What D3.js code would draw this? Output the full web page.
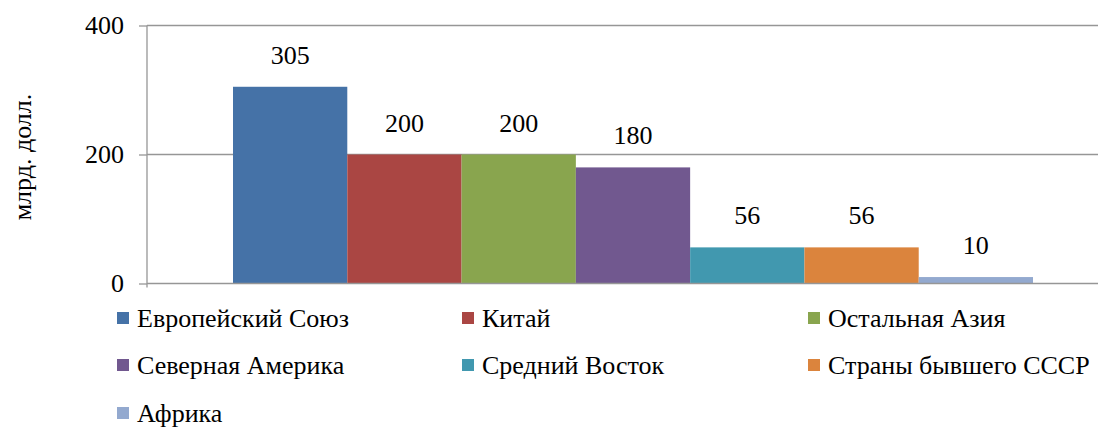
<!DOCTYPE html>
<html>
<head>
<meta charset="utf-8">
<script src="https://cdn.jsdelivr.net/npm/d3@7"></script>
</head>
<body style="margin:0">
<svg width="1098" height="430"></svg>
<script>
// series (one category, seven regions)
const regions = ['Европейский Союз', 'Китай', 'Остальная Азия', 'Северная Америка', 'Средний Восток', 'Страны бывшего СССР', 'Африка'];
const values = [305, 200, 200, 180, 56, 56, 10];
const colors = ['#4572A7', '#AA4643', '#89A54E', '#71588F', '#4198AF', '#DB843D', '#93A9CF'];
const yTicks = [0, 200, 400];
const yTitle = 'млрд. долл.';

const FONT = "'Liberation Serif'";

const svg = d3.select('svg');

const x = d3.scaleBand().domain(regions).range([233, 1033]).padding(0);
const y = d3.scaleLinear().domain([0, 400]).range([283.5, 25.5]);

// gridlines
svg.append('g')
	.selectAll('line')
	.data(yTicks.filter(d => d > 0))
	.enter()
	.append('line')
	.attr('x1', 147).attr('x2', 1098)
	.attr('y1', d => y(d)).attr('y2', d => y(d))
	.attr('stroke', '#969696').attr('stroke-width', 1.3);

// bars
svg.append('g')
	.selectAll('rect')
	.data(values)
	.enter()
	.append('rect')
	.attr('x', (d, i) => x(regions[i]))
	.attr('width', x.bandwidth())
	.attr('y', d => y(d))
	.attr('height', d => y(0) - y(d))
	.attr('fill', (d, i) => colors[i]);

// value labels
svg.selectAll('.val')
	.data(values)
	.enter()
	.append('text')
	.attr('class', 'val')
	.attr('x', (d, i) => x(regions[i]) + x.bandwidth() / 2)
	.attr('y', d => y(d) - 23)
	.attr('text-anchor', 'middle')
	.attr('font-size', 26)
	.style('font-family', FONT)
	.text(d => d);

// y axis
const yAxis = svg.append('g')
	.attr('transform', 'translate(147,0)')
	.call(d3.axisLeft(y).tickValues(yTicks).tickSize(8).tickPadding(15));
yAxis.select('.domain').attr('stroke', '#969696').attr('stroke-width', 1.3).attr('d', 'M0,' + y(400) + 'V' + (y(0) + 4));
yAxis.selectAll('.tick line').attr('stroke', '#969696').attr('stroke-width', 1.3);
yAxis.selectAll('.tick text')
	.attr('fill', '#000')
	.attr('font-size', 26)
	.style('font-family', FONT);

// baseline
svg.append('line')
	.attr('x1', 147).attr('x2', 1098)
	.attr('y1', y(0)).attr('y2', y(0))
	.attr('stroke', '#969696').attr('stroke-width', 1.3);

// y title
svg.append('text')
	.attr('transform', 'translate(31,157) rotate(-90)')
	.attr('text-anchor', 'middle')
	.attr('font-size', 26)
	.style('font-family', FONT)
	.text(yTitle);

// legend
const colX = [117, 462, 808];
const rowY = [318, 365, 413];
const legend = svg.selectAll('.leg')
	.data(regions)
	.enter()
	.append('g')
	.attr('class', 'leg')
	.attr('transform', (d, i) => 'translate(' + colX[i % 3] + ',' + rowY[Math.floor(i / 3)] + ')');
legend.append('rect')
	.attr('x', 0).attr('y', -6)
	.attr('width', 12).attr('height', 12)
	.attr('fill', (d, i) => colors[i]);
legend.append('text')
	.attr('x', 20).attr('y', 9)
	.attr('font-size', 26)
	.style('font-family', FONT)
	.text(d => d);
</script>
</body>
</html>
